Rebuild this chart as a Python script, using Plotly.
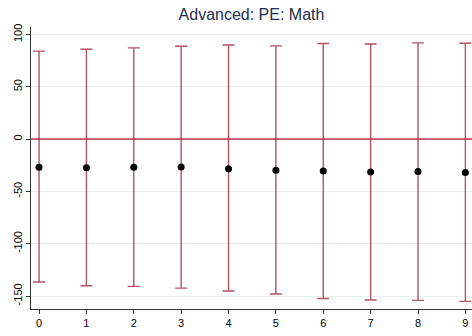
import plotly.graph_objects as go

lags = [0, 1, 2, 3, 4, 5, 6, 7, 8, 9]
estimates = [-26.8, -27.3, -27.0, -26.6, -28.2, -29.8, -30.4, -31.4, -31.0, -31.8]
upper = [84.1, 86.0, 87.2, 88.8, 90.0, 89.2, 91.4, 91.0, 92.0, 91.7]
lower = [-136.6, -140.2, -140.8, -142.4, -145.2, -148.0, -152.3, -153.8, -154.2, -155.1]
yticks = [100, 50, 0, -50, -100, -150]
title = "Advanced: PE: Math"

plus = [u - e for u, e in zip(upper, estimates)]
minus = [e - l for e, l in zip(estimates, lower)]

fig = go.Figure()
fig.add_trace(go.Scatter(
    x=lags, y=estimates, mode="markers",
    marker=dict(color="black", size=7),
    error_y=dict(type="data", symmetric=False, array=plus, arrayminus=minus,
                 color="rgba(155,35,55,0.78)", thickness=1.4, width=6),
    showlegend=False,
))

fig.update_layout(
    width=472, height=336,
    margin=dict(l=31, r=0, t=27, b=27),
    paper_bgcolor="white", plot_bgcolor="white",
    font=dict(family="Liberation Sans, Arial, sans-serif", size=11, color="black"),
    title=dict(text=title, x=0.5, xref="paper", xanchor="center",
               yref="container", y=1 - 14.5 / 336, yanchor="middle",
               font=dict(size=16, color="#1e2d50")),
    xaxis=dict(range=[-0.17, 9.14], tickmode="array", tickvals=lags,
               ticktext=[str(v) for v in lags], showgrid=False, zeroline=False,
               showline=True, linecolor="#333333", linewidth=1, automargin=False,
               ticks="outside", ticklen=4, tickcolor="#333333",
               tickfont=dict(size=11)),
    yaxis=dict(range=[-162.4, 107.2], tickmode="array", tickvals=yticks,
               ticktext=[str(v) for v in yticks], tickangle=-90,
               showgrid=True, gridcolor="#e8efef", gridwidth=1, automargin=False,
               zeroline=True, zerolinecolor="#d4607c", zerolinewidth=1.5,
               showline=True, linecolor="#333333", linewidth=1,
               ticks="outside", ticklen=4, tickcolor="#333333",
               tickfont=dict(size=11)),
)

fig.write_html("out.html", config={"displayModeBar": False},
               post_script="document.body.style.margin='0';")
